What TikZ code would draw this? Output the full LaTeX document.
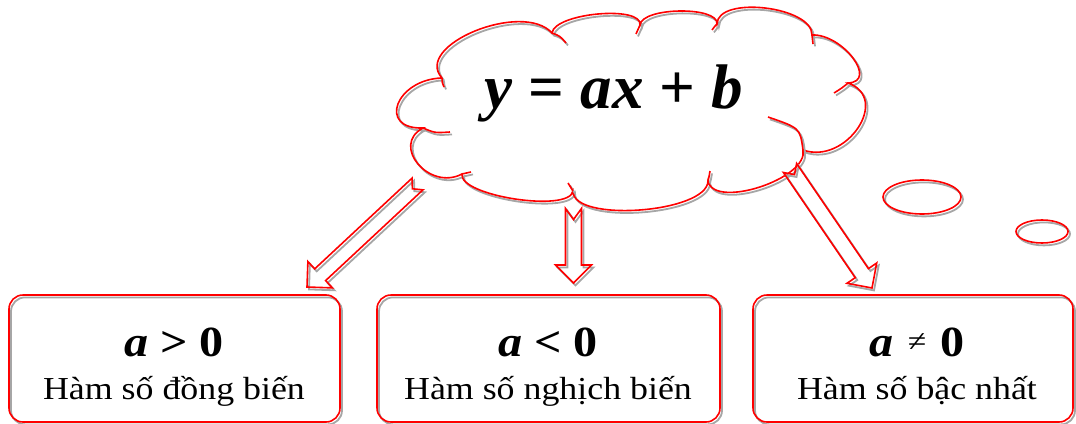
\documentclass[tikz,border=0pt]{standalone}
\usepackage{fontspec}
\setmainfont{Liberation Serif}
\newfontfamily\boxfont[FakeStretch=1.12]{Liberation Serif}
\usetikzlibrary{calc,shapes.geometric}
\tikzset{
  redline/.style={draw=red, line width=1.6pt},
  sh/.style={preaction={draw=black!35, line width=1.8pt, transform canvas={shift={(2pt,-2.4pt)}}}},
  box/.style={redline, sh, rounded corners=14pt, inner sep=0pt},
  bigtxt/.style={anchor=base, font=\boxfont\fontsize{43}{48}\selectfont},
  smalltxt/.style={anchor=base, font=\boxfont\fontsize{32}{36}\selectfont},
  bubble/.style={redline, sh, ellipse, inner sep=0pt},
}
\newcommand\cbump[3]{.. controls ($0.3333*(#1)+1.3333*(#3)-0.6667*(#2)$) and ($0.3333*(#2)+1.3333*(#3)-0.6667*(#1)$) .. (#2)}
\newcommand\blockarr[3]{%
  \path ($(#2)!18pt!(#1)$) coordinate (#2-b);
  \draw[redline,sh] ($(#1)!8pt!90:(#2)$) -- ($(#2-b)!8pt!90:(#2)$) -- ($(#2-b)!18pt!90:(#2)$) -- (#2)
    -- ($(#2-b)!18pt!-90:(#2)$) -- ($(#2-b)!8pt!-90:(#2)$) -- ($(#1)!8pt!-90:(#2)$) -- ($(#1)!#3!(#2)$) -- cycle;
}
\begin{document}
\begin{tikzpicture}[x=1pt,y=-1pt]
\useasboundingbox (0,0) rectangle (1076,423);
% cloud joints
\coordinate (P1) at (442,78);
\coordinate (P2) at (552,33);
\coordinate (P3) at (640,25);
\coordinate (P4) at (717,24);
\coordinate (P5) at (812,35);
\coordinate (P6) at (848,83);
\coordinate (P7) at (803,150);
\coordinate (P8) at (708,181);
\coordinate (P9) at (573,191);
\coordinate (P10) at (462,174);
\coordinate (P11) at (423,128);
% bump middles
\coordinate (M1) at (475,31);
\coordinate (M2) at (598,14);
\coordinate (M3) at (680,11);
\coordinate (M4) at (765,8);
\coordinate (M5) at (853,58);
\coordinate (M6) at (858,128);
\coordinate (M7) at (760,187);
\coordinate (M8) at (640,210);
\coordinate (M9) at (515,199);
\coordinate (M10) at (418,164);
\coordinate (M11) at (398,104);
\draw[redline,sh] (P1) \cbump{P1}{P2}{M1} \cbump{P2}{P3}{M2} \cbump{P3}{P4}{M3} \cbump{P4}{P5}{M4}
  \cbump{P5}{P6}{M5} \cbump{P6}{P7}{M6} \cbump{P7}{P8}{M7} \cbump{P8}{P9}{M8}
  \cbump{P9}{P10}{M9} \cbump{P10}{P11}{M10} \cbump{P11}{P1}{M11};
% creases
\draw[redline,sh] (P1) .. controls (442,82) .. (444,87);
\draw[redline,sh] (P2) .. controls (560,36) .. (566,43);
\draw[redline,sh] (P3) .. controls (638,29) .. (636,34);
\draw[redline,sh] (P4) .. controls (715,26) .. (712,30);
\draw[redline,sh] (P5) .. controls (813,39) .. (813,44);
\draw[redline,sh] (P6) .. controls (842,88) .. (834,93);
\draw[redline,sh] (P7) .. controls (800,128) .. (768,117);
\draw[redline,sh] (P8) .. controls (709,177) .. (710,171);
\draw[redline,sh] (P9) .. controls (571,187) .. (568,183);
\draw[redline,sh] (P10) .. controls (466,173) .. (471,172);
\draw[redline,sh] (P11) .. controls (435,133) .. (450,132);
\node[anchor=base, font=\fontsize{63}{70}\selectfont] (eq) at (614,108)
  {\textbf{\textit{y}}\hspace{16pt}\textbf{=}\hspace{16pt}\textbf{\textit{ax}}\hspace{16pt}\textbf{+}\hspace{16pt}\textbf{\textit{b}}};
% thought bubbles
\node[bubble, minimum width=78pt, minimum height=34pt] (e1) at (922,197) {};
\node[bubble, minimum width=52pt, minimum height=23pt] (e2) at (1042,231.5) {};
% boxes
\node[box, minimum width=331pt, minimum height=127pt] (b1) at (174.5,358.5) {};
\node[box, minimum width=343pt, minimum height=127pt] (b2) at (548.5,358.5) {};
\node[box, minimum width=320pt, minimum height=127pt] (b3) at (913,358.5) {};
\node[bigtxt] (t1) at (174,356) {\textbf{\textit{a}} \textbf{> 0}};
\node[smalltxt] (s1) at (174,399) {Hàm số đồng biến};
\node[bigtxt] (t2) at (548,356) {\textbf{\textit{a}} \textbf{< 0}};
\node[smalltxt] (s2) at (548,399) {Hàm số nghịch biến};
\node[bigtxt] (t3) at (917,356) {\textbf{\textit{a}}\hspace{14pt}\raisebox{5pt}{\fontsize{30}{32}\selectfont ≠}\hspace{14pt}\textbf{0}};
\node[smalltxt] (s3) at (917,399) {Hàm số bậc nhất};
% arrows
\coordinate (a1t) at (417.5,184);
\coordinate (a1h) at (307,287);
\coordinate (a2t) at (573.5,208.5);
\coordinate (a2h) at (573.5,283);
\coordinate (a3t) at (790,168);
\coordinate (a3h) at (872,288);
\blockarr{a1t}{a1h}{7pt}
\blockarr{a2t}{a2h}{11pt}
\blockarr{a3t}{a3h}{8pt}
\end{tikzpicture}
\end{document}
